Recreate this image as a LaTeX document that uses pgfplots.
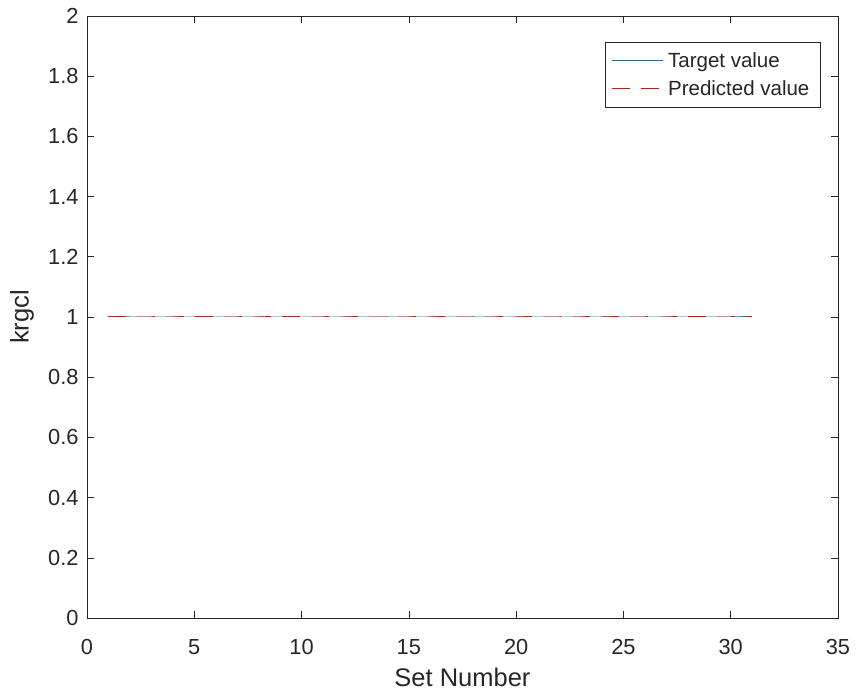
\documentclass[border=0pt]{standalone}
\usepackage{fontspec}
\setmainfont{Liberation Sans}
\usepackage{pgfplots}
\pgfplotsset{compat=1.18}
\definecolor{mblue}{rgb}{0,0.447,0.741}
\definecolor{axgray}{rgb}{0.15,0.15,0.15}
\begin{document}
\begin{tikzpicture}[x=1pt,y=1pt]
\path[use as bounding box] (-87,-73) rectangle (773,618);
\begin{axis}[
  at={(0,0)}, anchor=south west,
  scale only axis, width=751pt, height=602pt,
  xmin=0, xmax=35, ymin=0, ymax=2,
  xtick={0,5,10,15,20,25,30,35},
  ytick={0,0.2,0.4,0.6,0.8,1,1.2,1.4,1.6,1.8,2},
  tick align=inside, major tick length=7pt,
  axis line style={axgray, line width=0.6pt},
  tick style={axgray, line width=0.6pt},
  ticklabel style={font=\fontsize{21.8}{26}\selectfont, text=axgray},
  /pgf/number format/assume math mode=true,
  xticklabel style={anchor=north, yshift=-18pt},
  yticklabel style={anchor=east, xshift=-5pt},
  xlabel={Set Number}, ylabel={krgcl},
  label style={font=\fontsize{25.5}{30}\selectfont, text=axgray, inner sep=0pt},
  xlabel style={at={(axis description cs:0.5,-0.099)}, anchor=center},
  ylabel style={at={(axis description cs:-0.0866,0.5)}, anchor=center},
  legend style={at={(0.977,0.957)}, anchor=north east, draw=axgray,
    line width=0.6pt, font=\fontsize{20.5}{24}\selectfont, text=black!85,
    inner xsep=6pt, inner ysep=8pt, row sep=8pt,
    nodes={inner xsep=5pt}},
  legend cell align=left,
  legend image code/.code={\draw[#1] (0pt,0pt) -- (51pt,0pt);},
]
\addplot[mblue, line width=1pt] coordinates {
(1,1) (2,1) (3,1) (4,1) (5,1) (6,1) (7,1) (8,1) (9,1) (10,1)
(11,1) (12,1) (13,1) (14,1) (15,1) (16,1) (17,1) (18,1) (19,1) (20,1)
(21,1) (22,1) (23,1) (24,1) (25,1) (26,1) (27,1) (28,1) (29,1) (30,1) (31,1)};
\addlegendentry{Target value}
\addplot[red, line width=1pt, dash pattern=on 18pt off 11pt] coordinates {
(1,1) (2,1) (3,1) (4,1) (5,1) (6,1) (7,1) (8,1) (9,1) (10,1)
(11,1) (12,1) (13,1) (14,1) (15,1) (16,1) (17,1) (18,1) (19,1) (20,1)
(21,1) (22,1) (23,1) (24,1) (25,1) (26,1) (27,1) (28,1) (29,1) (30,1) (31,1)};
\addlegendentry{Predicted value}
\end{axis}
\end{tikzpicture}
\end{document}
